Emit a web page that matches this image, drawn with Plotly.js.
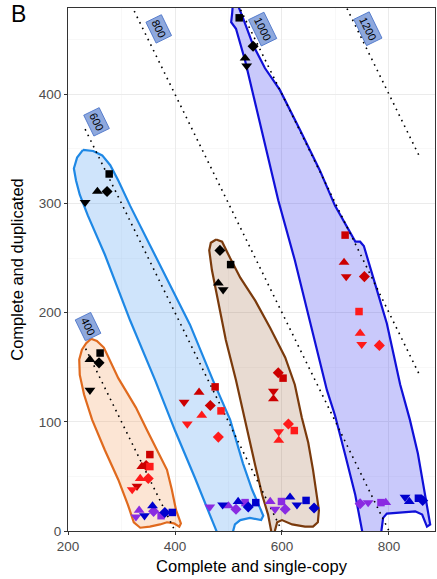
<!DOCTYPE html>
<html>
<head>
<meta charset="utf-8">
<script src="https://cdn.plot.ly/plotly-3.0.1.min.js"></script>
<style>html,body{margin:0;padding:0;background:#fff}#chart{width:437px;height:579px}</style>
</head>
<body>
<div id="chart"></div>
<script>
// Point order inside each group: triangle-up, triangle-down, diamond, square; groups: 400, 600, 800, 1000
const shapes = ['triangle-up','triangle-down','diamond','square'];

const blackX = [241,241,258,260, 255,232,273,277, 481,490,484,504, 531,534,546,520];
const blackY = [157,129,154,163, 311,301,311,327, 227,221,257,244, 433,426,444,470];

const redDarkX = [338,329,346,353, 445,417,466,475, 584,584,593,602, 716,720,754,718];
const redDarkY = [59,41,60,70, 127,118,115,132, 121,128,145,140, 246,233,233,271];

const redBrightX = [335,320,350,353, 450,423,481,486, 594,594,612,623, 746,749,782,744];
const redBrightY = [48,38,48,59, 106,98,86,110, 83,91,98,92, 181,171,170,201];

const purpleX = [333,327,360,374, 500,465,514,531, 578,587,606,599, 794,761,746,785];
const purpleY = [19,13,18,14, 23,22,20,26, 27,20,20,27, 26,26,25,26];

const blueX = [358,343,381,395, 518,489,537,551, 615,628,660,645, 838,830,863,855];
const blueY = [23,14,17,17, 27,24,22,26, 31,24,21,28, 27,31,28,30];

// Hull outlines
const hull400X = [243,254,267,279,294,310,327,348,366,385,394,402,411,408,398,385,372,353,335,323,312,294,269,245,230,222,221,226,234];
const hull400Y = [176,174,168,155,140,127,113,92,74,56,38,19,7,4,7,8,6,4,3,8,24,47,74,102,125,143,157,166,172];

const hull600X = [228,247,264,279,294,316,353,391,428,471,503,527,544,559,565,561,540,522,512,507,480,465,437,400,363,316,269,237,222,215,211,217];
const hull600Y = [349,348,344,335,321,298,262,225,189,138,102,62,38,21,14,10,12,10,6,-3,-3,15,49,92,138,193,253,289,308,321,332,342];

const hull800X = [477,488,503,522,550,578,606,624,637,649,658,665,669,667,658,643,619,600,591,585,581,574,563,550,531,514,495,480,469,464,467];
const hull800Y = [267,265,250,232,211,186,159,134,104,81,56,33,19,8,4,4,6,10,8,-3,-3,15,33,60,102,138,175,211,239,257,264];

const hull1000X = [508,518,527,546,568,596,634,671,699,722,737,746,753,770,796,821,839,854,865,873,877,871,862,849,821,796,789,785,751,737,718,699,684,652,624,593,559,531,514,505,507];
const hull1000Y = [482,481,470,445,424,404,367,330,298,278,265,265,261,233,190,134,102,71,38,15,6,4,15,18,17,16,12,-3,-3,33,70,106,129,193,248,303,372,431,460,466,475];

// Iso-total reference lines (complete = single-copy + duplicated)
const isoTotals = [400,600,800,1000,1200];
const isoXStart = [233,232,232,232,232];
const isoXEnd = [400,600,800,858,858];
const isoLabels = ['400','600','800','1000','1200'];
const isoLabelX = [238,254,370,564,761];
const isoLabelY = [187,375,460,460,460];

const FONT = 'Liberation Sans, Arial, sans-serif';
const traces = [];
const hulls = [
  {x:hull400X, y:hull400Y, line:'#E06A1E', fill:'rgba(245,160,100,0.28)'},
  {x:hull600X, y:hull600Y, line:'#1E88E5', fill:'rgba(70,150,240,0.26)'},
  {x:hull800X, y:hull800Y, line:'#7A3A0C', fill:'rgba(150,90,50,0.22)'},
  {x:hull1000X, y:hull1000Y, line:'#1010D8', fill:'rgba(60,60,240,0.28)'}
];
hulls.forEach(h => traces.push({
  type:'scatter', mode:'lines', x:h.x.concat([h.x[0]]), y:h.y.concat([h.y[0]]),
  fill:'toself', fillcolor:h.fill, line:{color:h.line, width:2.2}, hoverinfo:'skip', showlegend:false
}));

isoTotals.forEach((t,i) => {
  const xs = [isoXStart[i], isoXEnd[i]];
  traces.push({type:'scatter', mode:'lines', x:xs, y:xs.map(v => t - v),
    line:{color:'#000', width:1.6, dash:'1.6px,4.6px'}, hoverinfo:'skip', showlegend:false});
});

const symOf = n => Array.from({length:n}, (_,i) => shapes[i % 4]);
const sizeOf = n => Array.from({length:n}, (_,i) => [9.5,9.5,8.5,7.5][i % 4]);
[[blackX,blackY,'#000000'],[redDarkX,redDarkY,'#CC0000'],[redBrightX,redBrightY,'#FF1A1A'],
 [purpleX,purpleY,'#8A2BE2'],[blueX,blueY,'#0000CD']].forEach(s => traces.push({
  type:'scatter', mode:'markers', x:s[0], y:s[1], opacity:1,
  marker:{symbol:symOf(s[0].length), size:sizeOf(s[0].length), color:s[2], opacity:1, line:{width:0}},
  showlegend:false, hoverinfo:'x+y'
}));

const annotations = isoLabels.map((l,i) => ({
  x:isoLabelX[i], y:isoLabelY[i], xref:'x', yref:'y', text:l, showarrow:false,
  textangle:64, font:{family:FONT, size:11, color:'#000'},
  bgcolor:'#8EA8DD', bordercolor:'#4A74C9', borderwidth:0.8, borderpad:2
}));
annotations.push({xref:'paper', yref:'paper', x:-0.16, y:1.018, xanchor:'left', yanchor:'top',
  text:'B', showarrow:false, font:{family:FONT, size:23, color:'#000'}});

const axisCommon = {
  showline:true, mirror:true, linecolor:'#333333', linewidth:1,
  ticks:'outside', ticklen:3, tickcolor:'#333333', tickwidth:1,
  gridcolor:'#EBEBEB', gridwidth:1, zeroline:false,
  tickfont:{family:FONT, size:13.5, color:'#4D4D4D'}
};

const layout = {
  width:437, height:579,
  margin:{l:68, r:2, t:8, b:48},
  paper_bgcolor:'#fff', plot_bgcolor:'#fff',
  xaxis:Object.assign({}, axisCommon, {
    range:[200,886], tickvals:[200,400,600,800], autorange:false,
    minor:{showgrid:true, gridcolor:'#F3F3F3', gridwidth:0.6, tickvals:[300,500,700], ticks:''},
    title:{text:'Complete and single-copy', standoff:7, font:{family:FONT, size:16.5, color:'#000'}}
  }),
  yaxis:Object.assign({}, axisCommon, {
    range:[0,479], tickvals:[0,100,200,300,400], autorange:false,
    minor:{showgrid:true, gridcolor:'#F3F3F3', gridwidth:0.6, tickvals:[50,150,250,350,450], ticks:''},
    title:{text:'Complete and duplicated', standoff:10, font:{family:FONT, size:16.5, color:'#000'}}
  }),
  annotations:annotations,
  showlegend:false
};

Plotly.newPlot('chart', traces, layout, {displayModeBar:false, staticPlot:true});
</script>
</body>
</html>
